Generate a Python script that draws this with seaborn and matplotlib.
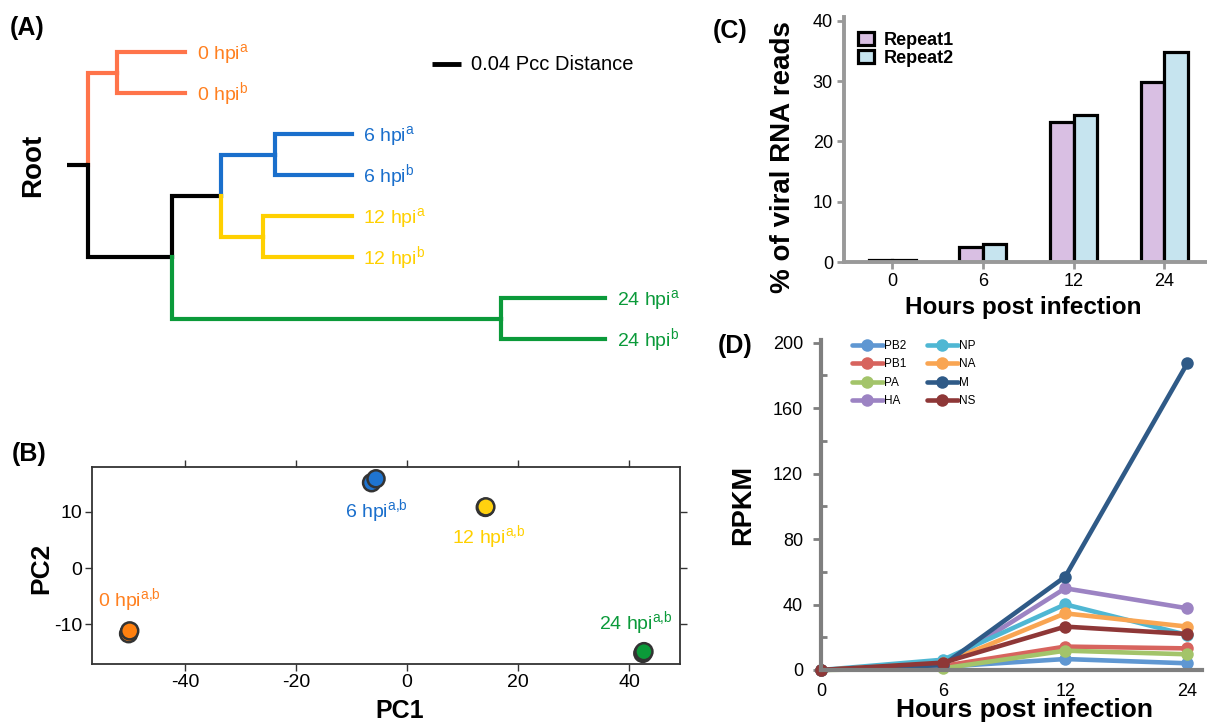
import matplotlib
matplotlib.use('Agg')
import matplotlib.pyplot as plt
from matplotlib.patches import Patch
import numpy as np
import pandas as pd
import seaborn as sns

# ---------------- data ----------------
# Panel A: dendrogram (distances in Pcc units, from root)
leaf_names = ['0 hpi', '0 hpi', '6 hpi', '6 hpi', '12 hpi', '12 hpi', '24 hpi', '24 hpi']
leaf_tags = ['a', 'b', 'a', 'b', 'a', 'b', 'a', 'b']
leaf_group = ['0', '0', '6', '6', '12', '12', '24', '24']
leaf_depth = [0.134, 0.134, 0.364, 0.364, 0.364, 0.364, 0.713, 0.713]
node_names = ['root', 'n0', 'nB', 'n612', 'n6', 'n12', 'n24']
node_depth = [0.0, 0.040, 0.116, 0.183, 0.258, 0.241, 0.570]
node_children = [('n0', 'nB'), ('L0', 'L1'), ('n612', 'n24'), ('n6', 'n12'),
                 ('L2', 'L3'), ('L4', 'L5'), ('L6', 'L7')]
branch_group = {'n0': '0', 'L0': '0', 'L1': '0', 'nB': 'k', 'n612': 'k',
                'n6': '6', 'L2': '6', 'L3': '6', 'n12': '12', 'L4': '12', 'L5': '12',
                'n24': '24', 'L6': '24', 'L7': '24'}
root_stub = 0.029
scale_bar = 0.04

# Panel B: PCA
pca_group = ['0', '0', '6', '6', '12', '12', '24', '24']
pc1 = [-50.2, -50.0, -6.4, -5.6, 14.1, 14.2, 42.5, 42.7]
pc2 = [-11.7, -11.2, 15.2, 15.9, 10.8, 10.9, -15.2, -14.9]
pca_label_groups = ['0', '6', '12', '24']
pca_label_x = [-55.7, -11.2, 8.1, 34.6]
pca_label_y = [-6.8, 9.1, 4.5, -10.9]
pc1_ticks = [-40, -20, 0, 20, 40]
pc2_ticks = [-10, 0, 10]

# Panel C: % viral reads
hpi_labels = ['0', '6', '12', '24']
repeat1 = [0.3, 2.5, 23.3, 29.9]
repeat2 = [0.3, 3.05, 24.4, 34.9]

# Panel D: RPKM per segment
segments = ['PB2', 'PB1', 'PA', 'HA', 'NP', 'NA', 'M', 'NS']
rpkm_PB2 = [0, 2.0, 6.7, 4.1]
rpkm_PB1 = [0, 2.5, 14.3, 13.2]
rpkm_PA = [0, 1.0, 11.8, 9.6]
rpkm_HA = [0, 3.0, 49.9, 37.7]
rpkm_NP = [0, 6.3, 40.1, 21.4]
rpkm_NA = [0, 4.0, 34.6, 26.5]
rpkm_M = [0, 3.0, 57.0, 187.4]
rpkm_NS = [0, 4.5, 26.5, 22.0]
rpkm_ticks = [0, 40, 80, 120, 160, 200]

# ---------------- style ----------------
sns.set_theme(style='white')
FONT = 'Liberation Sans'
plt.rcParams['font.family'] = [FONT, 'DejaVu Sans']
plt.rcParams['mathtext.fontset'] = 'custom'
plt.rcParams['mathtext.rm'] = FONT
plt.rcParams['mathtext.it'] = FONT + ':italic'
plt.rcParams['mathtext.bf'] = FONT + ':bold'
plt.rcParams['axes.unicode_minus'] = False
for k in ['text.color', 'axes.labelcolor', 'xtick.labelcolor', 'ytick.labelcolor']:
    plt.rcParams[k] = 'black'

line_col = {'0': '#FF744A', '6': '#1A6FCC', '12': '#FFD000', '24': '#0B9A3A', 'k': '#000000'}
text_col = {'0': '#FF8020', '6': '#1A6FCC', '12': '#FFD000', '24': '#0B9A3A'}
pca_col = {'0': '#FF800F', '6': '#1F74D0', '12': '#FFD10F', '24': '#0B9A39'}
bar_col = {'Repeat1': '#D9BFE3', 'Repeat2': '#C6E4EF'}
seg_col = {'PB2': '#5F97D2', 'PB1': '#D7645E', 'PA': '#A3C46A', 'HA': '#9C83C3',
           'NP': '#4FB7D3', 'NA': '#F9A552', 'M': '#2F5A87', 'NS': '#8E3737'}

W, H = 1207, 723
fig = plt.figure(figsize=(W / 100, H / 100), dpi=100)


def rect(l, t, r, b):
    return [l / W, 1 - b / H, (r - l) / W, (b - t) / H]


def ftext(px, py, s, **kw):
    fig.text(px / W, 1 - py / H, s, **kw)


def sup(base, tag):
    return base + r'$^{\mathrm{' + tag.replace(',', '{,}') + '}}$'


# ---------------- Panel A ----------------
axA = fig.add_axes(rect(0, 0, 660, 350))
axA.set_xlim(-88 / 725, 572 / 725)
axA.set_ylim((350 - 52) / 41, -52 / 41)
axA.axis('off')

xpos = {}
ypos = {}
for i in range(len(leaf_depth)):
    xpos['L%d' % i] = leaf_depth[i]
    ypos['L%d' % i] = float(i)
for n, d in zip(node_names, node_depth):
    xpos[n] = d
children = dict(zip(node_names, node_children))


def gety(n):
    if n not in ypos:
        a, b = children[n]
        ypos[n] = (gety(a) + gety(b)) / 2
    return ypos[n]


gety('root')
for p in node_names:
    for c in children[p]:
        axA.plot([xpos[p], xpos[p], xpos[c]], [ypos[p], ypos[c], ypos[c]],
                 color=line_col[branch_group[c]], lw=3, solid_capstyle='projecting',
                 solid_joinstyle='miter')
axA.plot([-root_stub, 0], [ypos['root'], ypos['root']], color='black', lw=3,
         solid_capstyle='butt')
for i in range(len(leaf_depth)):
    axA.text(leaf_depth[i] + 0.016, i + 0.17, sup(leaf_names[i], leaf_tags[i]),
             color=text_col[leaf_group[i]], fontsize=14, va='baseline', ha='left')
sb_x0 = (432 - 88) / 725
sb_y = (64 - 52) / 41
axA.plot([sb_x0, sb_x0 + scale_bar], [sb_y, sb_y], color='black', lw=3.5, solid_capstyle='butt')
axA.text(sb_x0 + scale_bar + 0.014, sb_y, '%.2f Pcc Distance' % scale_bar, fontsize=14.5,
         va='center', ha='left')
ftext(33, 165, 'Root', rotation=90, fontsize=20, fontweight='bold', ha='center', va='center')
ftext(10, 28, '(A)', fontsize=18, fontweight='bold', ha='left', va='center')

# ---------------- Panel B ----------------
axB = fig.add_axes(rect(92, 467, 680, 664))
dfB = pd.DataFrame({'PC1': pc1, 'PC2': pc2, 'grp': pca_group})
sns.scatterplot(data=dfB, x='PC1', y='PC2', hue='grp', palette=pca_col, s=150,
                edgecolor='#333333', linewidth=1.8, legend=False, ax=axB, zorder=3)
for g, lx, ly in zip(pca_label_groups, pca_label_x, pca_label_y):
    axB.text(lx, ly, sup('%s hpi' % g, 'a,b'), color=text_col[g], fontsize=14,
             va='baseline', ha='left')
axB.set_xlim(-56.8, 49.2)
axB.set_ylim(-17.1, 18.0)
axB.set_xticks(pc1_ticks)
axB.set_yticks(pc2_ticks)
axB.set_xlabel('')
axB.set_ylabel('')
for sp in axB.spines.values():
    sp.set_color('#333333')
    sp.set_linewidth(1.3)
axB.tick_params(which='both', direction='out', length=5, width=1, top=True, right=True,
                bottom=True, left=True, labeltop=False, labelright=False,
                color='#333333', labelcolor='black', labelsize=14, pad=2)
ftext(400, 711, 'PC1', fontsize=18, fontweight='bold', ha='center', va='center')
ftext(41, 568, 'PC2', rotation=90, fontsize=19, fontweight='bold', ha='center', va='center')
ftext(12, 454, '(B)', fontsize=18, fontweight='bold', ha='left', va='center')

# ---------------- Panel C ----------------
axC = fig.add_axes(rect(844, 17, 1207, 262))
dfC = pd.DataFrame({'hpi': hpi_labels * 2,
                    'pct': repeat1 + repeat2,
                    'rep': ['Repeat1'] * len(repeat1) + ['Repeat2'] * len(repeat2)})
sns.barplot(data=dfC, x='hpi', y='pct', hue='rep', order=hpi_labels,
            hue_order=['Repeat1', 'Repeat2'], palette=bar_col, saturation=1,
            width=0.52, edgecolor='black', linewidth=2.3, errorbar=None, ax=axC,
            legend=False)
axC.set_xlim(-0.53, 3.47)
axC.set_ylim(0, 40.66)
axC.set_yticks([0, 10, 20, 30, 40])
axC.set_xlabel('')
axC.set_ylabel('')
sns.despine(ax=axC)
for s in ['left', 'bottom']:
    axC.spines[s].set_color('#999999')
    axC.spines[s].set_linewidth(2.8)
axC.tick_params(axis='both', direction='out', length=5, width=2, color='#999999',
                labelcolor='black', labelsize=13, left=True, bottom=True, pad=3)
handlesC = [Patch(facecolor=bar_col[k], edgecolor='black', linewidth=2.3) for k in ['Repeat1', 'Repeat2']]
legC = axC.legend(handlesC, ['Repeat1', 'Repeat2'], loc='upper left',
                  bbox_to_anchor=((858 - 844) / 363, 1 - (32 - 17) / 245),
                  frameon=False, borderpad=0, borderaxespad=0, handlelength=0.9,
                  handleheight=0.75, handletextpad=0.5, labelspacing=0.05,
                  prop={'weight': 'bold', 'size': 13})
ftext(783, 157, '% of viral RNA reads', rotation=90, fontsize=20, fontweight='bold',
      ha='center', va='center')
ftext(1023, 307, 'Hours post infection', fontsize=17.5, fontweight='bold',
      ha='center', va='center')
ftext(713, 31, '(C)', fontsize=18, fontweight='bold', ha='left', va='center')

# ---------------- Panel D ----------------
axD = fig.add_axes(rect(821, 340, 1202, 670))
rpkm_lists = [rpkm_PB2, rpkm_PB1, rpkm_PA, rpkm_HA, rpkm_NP, rpkm_NA, rpkm_M, rpkm_NS]
rows = []
for seg, vals in zip(segments, rpkm_lists):
    for i, (h, v) in enumerate(zip(hpi_labels, vals)):
        rows.append({'seg': seg, 'hpi': h, 'pos': i, 'rpkm': v})
dfD = pd.DataFrame(rows)
sns.lineplot(data=dfD, x='pos', y='rpkm', hue='seg', hue_order=segments, palette=seg_col,
             marker='o', markersize=9, markeredgewidth=0, linewidth=3.3, errorbar=None,
             ax=axD, legend=True)
for ln in axD.lines:
    ln.set_clip_on(False)
axD.set_xlim(0, 3.12)
axD.set_ylim(0, 201.6)
axD.set_xticks(range(len(hpi_labels)))
axD.set_xticklabels(hpi_labels)
axD.set_yticks(rpkm_ticks)
axD.set_yticks([20, 60, 100, 140, 180], minor=True)
axD.set_xlabel('')
axD.set_ylabel('')
sns.despine(ax=axD)
for s in ['left', 'bottom']:
    axD.spines[s].set_color('#7F7F7F')
    axD.spines[s].set_linewidth(3)
axD.tick_params(axis='y', which='major', direction='out', length=6, width=2,
                color='#7F7F7F', labelcolor='black', labelsize=13, left=True, pad=7)
axD.tick_params(axis='y', which='minor', direction='in', length=4, width=2,
                color='#7F7F7F', left=True)
axD.tick_params(axis='x', length=0, labelsize=13, labelcolor='black', pad=9)
hD, lD = axD.get_legend_handles_labels()
legD = axD.legend(hD, lD, ncol=2, loc='upper left',
                  bbox_to_anchor=((852 - 821) / 381, 1.0),
                  frameon=False, borderpad=0, borderaxespad=0, handlelength=2.6,
                  handletextpad=0.15, columnspacing=1.7, labelspacing=0.55,
                  fontsize=8.5)
ftext(743, 505, 'RPKM', rotation=90, fontsize=19.5, fontweight='bold',
      ha='center', va='center')
ftext(1024, 710, 'Hours post infection', fontsize=19, fontweight='bold',
      ha='center', va='center')
ftext(718, 346, '(D)', fontsize=18, fontweight='bold', ha='left', va='center')

fig.savefig('out.png', dpi=100)
